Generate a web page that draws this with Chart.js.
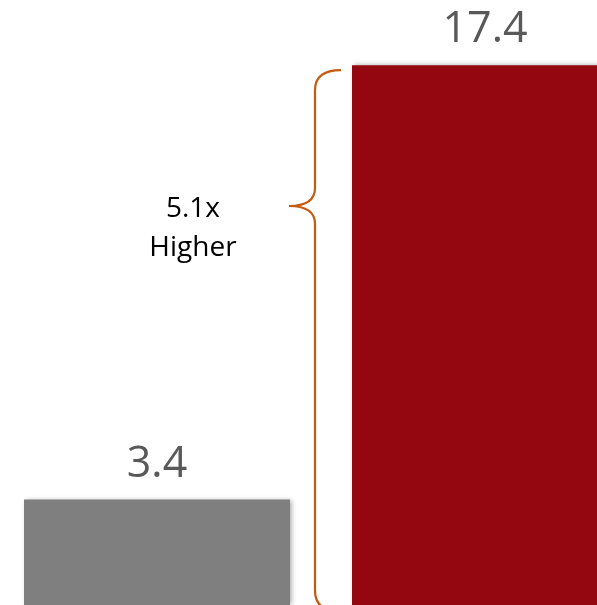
<!DOCTYPE html>
<html>
<head>
<meta charset="utf-8">
<script src="https://cdn.jsdelivr.net/npm/chart.js@4/dist/chart.umd.min.js"></script>
<style>
  html, body { margin: 0; padding: 0; background: #fff; overflow: hidden; }
  #wrap { position: absolute; left: -7px; top: 0; width: 656px; height: 605px; }
</style>
</head>
<body>
<div id="wrap"><canvas id="c"></canvas></div>
<script>
const categories = ["A", "B"];
const values = [3.4, 17.4];
const valueLabels = ["3.4", "17.4"];
const barColors = ["#7F7F7F", "#940711"];
const annotationLines = ["5.1x", "Higher"];

const overlay = {
  id: 'overlay',
  afterDatasetsDraw(chart) {
    const ctx = chart.ctx;
    const meta = chart.getDatasetMeta(0);
    ctx.save();
    ctx.fillStyle = '#595959';
    ctx.font = '43px "Open Sans"';
    ctx.textAlign = 'center';
    ctx.textBaseline = 'alphabetic';
    meta.data.forEach((bar, i) => {
      ctx.fillText(valueLabels[i], bar.x, bar.y - 23);
    });
    // brace between bars
    const low = meta.data[0], high = meta.data[1];
    const topY = high.y + 5;
    const botY = low.base + 5;
    const midY = 206;
    const xv = 322;
    const xr = 348;
    const xl = 296;
    const r = 20;
    ctx.strokeStyle = '#C55A11';
    ctx.lineWidth = 2.2;
    ctx.beginPath();
    ctx.moveTo(xr, topY);
    ctx.quadraticCurveTo(xv, topY, xv, topY + r);
    ctx.lineTo(xv, midY - 18);
    ctx.quadraticCurveTo(xv, midY, xl, midY);
    ctx.quadraticCurveTo(xv, midY, xv, midY + 18);
    ctx.lineTo(xv, botY - r);
    ctx.quadraticCurveTo(xv, botY, xr - 6, botY);
    ctx.stroke();
    // annotation text
    ctx.fillStyle = '#000000';
    ctx.font = '28px "Open Sans"';
    ctx.fillText(annotationLines[0], 200, 217);
    ctx.fillText(annotationLines[1], 200, 256);
    ctx.restore();
  }
};

const shadow = {
  id: 'shadow',
  beforeDatasetsDraw(chart) {
    const ctx = chart.ctx;
    ctx.save();
    ctx.shadowColor = 'rgba(0,0,0,0.35)';
    ctx.shadowBlur = 5;
    ctx.shadowOffsetX = 2;
    ctx.shadowOffsetY = 0;
  },
  afterDatasetsDraw(chart) {
    chart.ctx.restore();
  }
};

new Chart(document.getElementById('c'), {
  type: 'bar',
  data: {
    labels: categories,
    datasets: [{
      data: values,
      backgroundColor: barColors,
      borderWidth: 0,
      barPercentage: 0.811,
      categoryPercentage: 1.0
    }]
  },
  options: {
    responsive: true,
    maintainAspectRatio: false,
    animation: false,
    layout: { padding: 0 },
    plugins: { legend: { display: false }, tooltip: { enabled: false } },
    scales: {
      x: { display: false, offset: true },
      y: { display: false, min: 0, max: 19.5 }
    }
  },
  plugins: [shadow, overlay]
});
</script>
</body>
</html>
